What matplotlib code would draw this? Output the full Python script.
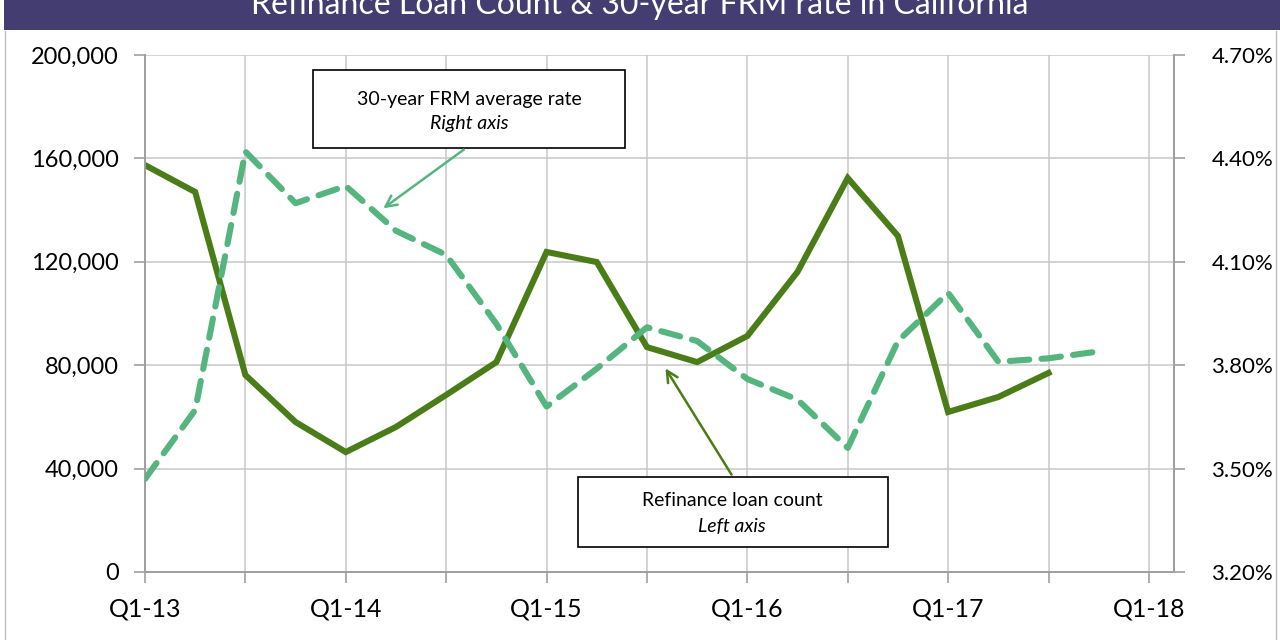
import matplotlib
matplotlib.use("Agg")
import matplotlib.pyplot as plt
from matplotlib.patches import Rectangle
from matplotlib.ticker import FuncFormatter

plt.rcParams['font.family'] = ['Lato', 'DejaVu Sans']

# ---- data ----
quarters = ["Q1-13", "Q2-13", "Q3-13", "Q4-13",
            "Q1-14", "Q2-14", "Q3-14", "Q4-14",
            "Q1-15", "Q2-15", "Q3-15", "Q4-15",
            "Q1-16", "Q2-16", "Q3-16", "Q4-16",
            "Q1-17", "Q2-17", "Q3-17", "Q4-17"]
loan_count = [157400, 147000, 76200, 58000,
              46400, 56100, 68500, 81200,
              123800, 119900, 87000, 81200,
              91300, 116100, 152400, 130000,
              61900, 67700, 77000]
frm_rate = [3.47, 3.67, 4.42, 4.27,
            4.32, 4.19, 4.12, 3.92,
            3.68, 3.79, 3.91, 3.87,
            3.76, 3.70, 3.56, 3.87,
            4.01, 3.81, 3.82, 3.84]
xtick_labels = ["Q1-13", "Q1-14", "Q1-15", "Q1-16", "Q1-17", "Q1-18"]
left_ticks = [0, 40000, 80000, 120000, 160000, 200000]
right_ticks = [3.20, 3.50, 3.80, 4.10, 4.40, 4.70]
title = "Refinance Loan Count & 30-year FRM rate in California"

solid_color = "#4A7D18"
dash_color = "#55B57F"
grid_color = "#C8C8C8"
spine_color = "#A0A0A0"

fig = plt.figure(figsize=(12.8, 6.4), dpi=100)
fig.patch.set_facecolor("white")

# title bar
fig.patches.append(Rectangle((4/1280, 1 - 30/640), 1 - 4/1280, 30/640,
                             transform=fig.transFigure, facecolor="#433D72",
                             edgecolor="none", zorder=0))
fig.text(0.5, 1 - 14/640, title, ha="center", va="baseline", color="white",
         fontsize=23, transform=fig.transFigure)
# frame lines
fig.add_artist(plt.Line2D([5/1280, 5/1280], [0, 1 - 31/640], color="#BDBDBD",
                          lw=1, transform=fig.transFigure))
fig.add_artist(plt.Line2D([1276/1280, 1276/1280], [0, 1 - 31/640], color="#BDBDBD",
                          lw=1, transform=fig.transFigure))

ax = fig.add_axes([145/1280, 1 - 572/640, (1174 - 145)/1280, (572 - 55)/640])
ax2 = ax.twinx()

x_loan = list(range(len(loan_count)))
x_rate = list(range(len(frm_rate)))

ax.plot(x_loan, loan_count, color=solid_color, lw=4.4, solid_joinstyle="miter",
        zorder=3)
ax2.plot(x_rate, frm_rate, color=dash_color, lw=4.4, linestyle=(0, (3.2, 2.0)),
         dash_capstyle="round", zorder=3)

ax.set_xlim(0, 20.5)
ax.set_ylim(0, 200000)
ax2.set_ylim(3.20, 4.70)
ax.set_yticks(left_ticks)
ax2.set_yticks(right_ticks)
ax.yaxis.set_major_formatter(FuncFormatter(lambda v, p: f"{int(v):,}"))
ax2.yaxis.set_major_formatter(FuncFormatter(lambda v, p: f"{v:.2f}%"))

xt = list(range(0, 21, 2))
ax.set_xticks(xt)
lbl_map = {4 * i: s for i, s in enumerate(xtick_labels)}
ax.set_xticklabels([lbl_map.get(t, "") for t in xt])

ax.grid(True, color=grid_color, lw=1.1)
ax.set_axisbelow(True)
ax.spines["top"].set_visible(False)
ax2.spines["top"].set_visible(False)
for a in (ax, ax2):
    for sp in ["left", "right", "bottom"]:
        a.spines[sp].set_color(spine_color)
        a.spines[sp].set_linewidth(1.3)
ax.tick_params(axis="both", colors=spine_color, length=8, width=1.2,
               labelcolor="black")
ax.tick_params(axis="x", pad=10, labelsize=18)
ax.tick_params(axis="y", pad=11, labelsize=17)
ax2.tick_params(axis="y", colors=spine_color, length=8, width=1.2,
                labelcolor="black", labelsize=16, pad=19)


def px_to_ax(xp, yp):
    return ((xp - 145) / (1174 - 145), (572 - yp) / (572 - 55))


# box 1
bx0, by0 = px_to_ax(313, 148)
bx1, by1 = px_to_ax(625, 70)
ax.add_patch(Rectangle((bx0, by0), bx1 - bx0, by1 - by0, transform=ax.transAxes,
                       fc="white", ec="black", lw=1.2, zorder=5))
tx, ty = px_to_ax(469, 99)
ax.text(tx, ty, "30-year FRM average rate", transform=ax.transAxes, ha="center",
        va="center", fontsize=14, zorder=6)
tx, ty = px_to_ax(469, 124)
ax.text(tx, ty, "Right axis", transform=ax.transAxes, ha="center", va="center",
        fontsize=14, style="italic", zorder=6)
ax.annotate("", xy=px_to_ax(381, 210), xytext=px_to_ax(466, 148),
            xycoords="axes fraction", textcoords="axes fraction",
            arrowprops=dict(arrowstyle="->,head_length=0.8,head_width=0.4",
                            color=dash_color, lw=1.8), zorder=6)

# box 2
bx0, by0 = px_to_ax(578, 547)
bx1, by1 = px_to_ax(888, 477)
ax.add_patch(Rectangle((bx0, by0), bx1 - bx0, by1 - by0, transform=ax.transAxes,
                       fc="white", ec="black", lw=1.2, zorder=5))
tx, ty = px_to_ax(732, 501)
ax.text(tx, ty, "Refinance loan count", transform=ax.transAxes, ha="center",
        va="center", fontsize=14, zorder=6)
tx, ty = px_to_ax(732, 526)
ax.text(tx, ty, "Left axis", transform=ax.transAxes, ha="center", va="center",
        fontsize=14, style="italic", zorder=6)
ax.annotate("", xy=px_to_ax(664, 366), xytext=px_to_ax(733, 477),
            xycoords="axes fraction", textcoords="axes fraction",
            arrowprops=dict(arrowstyle="->,head_length=0.8,head_width=0.4",
                            color=solid_color, lw=1.8), zorder=6)

fig.savefig("out.png", dpi=100)
